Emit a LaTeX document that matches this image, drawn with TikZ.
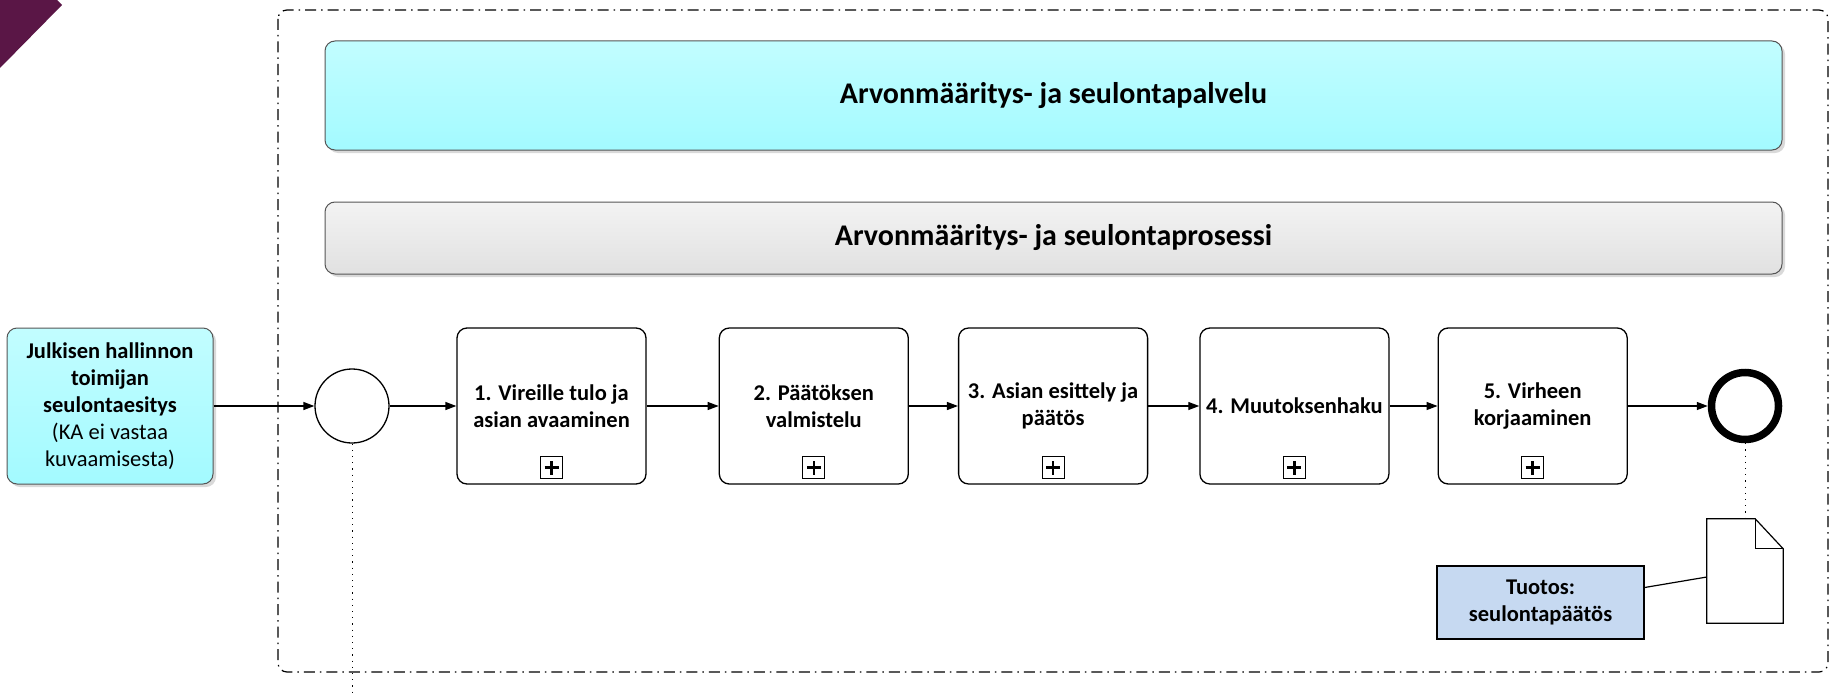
\documentclass[tikz,border=0pt]{standalone}
\usepackage{fontspec}
\setmainfont{Carlito}
\usetikzlibrary{positioning,arrows.meta,shadows}

\definecolor{cornerpurple}{HTML}{5A1646}
\definecolor{cyantop}{HTML}{C2FDFF}
\definecolor{cyanbot}{HTML}{A3FAFF}
\definecolor{graytop}{HTML}{F3F3F3}
\definecolor{graybot}{HTML}{E1E1E1}
\definecolor{bannerline}{HTML}{555555}
\definecolor{outputblue}{HTML}{C6D9F1}

\begin{document}
\begin{tikzpicture}[
            x=1pt, y=-1pt,
            banner/.style={draw=bannerline, line width=1pt, rounded corners=10pt,
                minimum width=1457pt, font=\fontsize{30}{36}\selectfont\bfseries,
                drop shadow={shadow xshift=3pt, shadow yshift=-3pt, fill=black!15, opacity=1}},
            task/.style={draw, line width=1.3pt, rounded corners=10pt, fill=white,
                minimum width=189pt, minimum height=156pt, align=center,
                font=\fontsize{22.5}{27}\selectfont\bfseries},
            plusbox/.style={draw, line width=1.1pt, minimum size=22pt, inner sep=0pt,
                path picture={\draw[line width=2.6pt]
                    ([xshift=-7pt]path picture bounding box.center) -- ([xshift=7pt]path picture bounding box.center)
                    ([yshift=-7pt]path picture bounding box.center) -- ([yshift=7pt]path picture bounding box.center);}},
            flow/.style={line width=1.3pt, -{Triangle[length=11pt,width=8pt]}},
            assoc/.style={line width=1pt, dash pattern=on 1.2pt off 5pt},
            pool/.style={line width=1.2pt, rounded corners=9pt, dash pattern=on 11pt off 5pt on 1.5pt off 5pt}]

            \useasboundingbox (0,0) rectangle (1830,693);
            \fill[cornerpurple] (0,0) -- (57,0) -- (62,5) -- (0,68) -- cycle;

            \draw[pool] (278,10) rectangle (1828,672);

            \node[banner, minimum height=109pt, top color=cyantop, bottom color=cyanbot] (service) at (1053.5,95.5) {Arvonmääritys- ja seulontapalvelu};
            \node[banner, minimum height=72pt, top color=graytop, bottom color=graybot] (process) at (1053.5,238) {Arvonmääritys- ja seulontaprosessi};

            \node[draw=bannerline, line width=1pt, rounded corners=10pt, top color=cyantop, bottom color=cyanbot,
                minimum width=206pt, minimum height=156pt, align=center, font=\fontsize{22.5}{27}\selectfont\bfseries,
                drop shadow={shadow xshift=3pt, shadow yshift=-3pt, fill=black!15, opacity=1}]
                (in) at (110,406) {Julkisen hallinnon\\toimijan\\seulontaesitys\\\mdseries(KA ei vastaa\\\mdseries kuvaamisesta)};

            \node[draw, circle, line width=1.3pt, minimum size=74pt, inner sep=0pt] (start) at (352,406) {};

            \node[task] (t1) at (551.5,406) {1. Vireille tulo ja\\asian avaaminen};
            \node[task, right=72pt of t1] (t2) {2. Päätöksen\\valmistelu};
            \node[task, right=49pt of t2] (t3) {3. Asian esittely ja\\päätös};
            \node[task, right=51pt of t3] (t4) {4. Muutoksenhaku};
            \node[task, right=48pt of t4] (t5) {5. Virheen\\korjaaminen};

            \foreach \t in {t1,t2,t3,t4,t5}
                \node[plusbox] (plus-\t) at ([yshift=17pt]\t.south) {};

            \node[draw, circle, line width=7.5pt, minimum size=67pt, inner sep=0pt] (end) at (1745,406) {};

            \foreach \a/\b in {in/start, start/t1, t1/t2, t2/t3, t3/t4, t4/t5, t5/end}
                \draw[flow] (\a) -- (\b);

            \node[minimum width=76pt, minimum height=104pt, inner sep=0pt] (doc) at (1745,571) {};
            \draw[line width=1.2pt, fill=white] (doc.south west) -- (doc.north west) -- ([xshift=-28pt]doc.north east)
                -- ([yshift=-30pt]doc.north east) -- (doc.south east) -- cycle;
            \draw[line width=1.2pt] ([xshift=-28pt]doc.north east) |- ([yshift=-30pt]doc.north east);

            \node[draw, line width=1.2pt, fill=outputblue, minimum width=207pt, minimum height=73pt, align=center,
                font=\fontsize{22.5}{27}\selectfont\bfseries] (out) at (1540.5,602.5) {Tuotos:\\seulontapäätös};

            \coordinate (drop) at (352,693);
            \draw[assoc] (start) -- (drop);
            \draw[assoc] (end) -- (doc.north);
            \draw[line width=1.2pt] ([yshift=15pt]out.east) -- ([yshift=-6pt]doc.west);
        \end{tikzpicture}
\end{document}
